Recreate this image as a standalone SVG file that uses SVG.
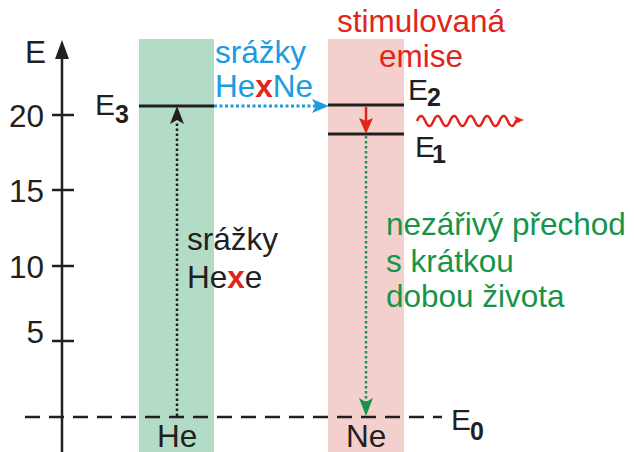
<svg xmlns="http://www.w3.org/2000/svg" width="634" height="452" viewBox="0 0 634 452">
<style>
text{font-family:"Liberation Sans",Arial,sans-serif;font-size:31.5px;fill:#231f20}
.e{font-size:30px}
.sub{font-size:25px;font-weight:bold}
.blue{fill:#1b9be0}
.red{fill:#e1251b}
.green{fill:#17944a}
.bx{font-weight:bold;fill:#e1251b}
.lvl{stroke:#231f20;stroke-width:3}
.ax{stroke:#231f20;stroke-width:2.5;fill:none}
</style>
<rect width="634" height="452" fill="#ffffff"/>
<g id="bands">
<rect id="he-band" x="139" y="39" width="75" height="413" fill="#b3dcc7"/>
<rect id="ne-band" x="328" y="39" width="76" height="413" fill="#f3d0ce"/>
</g>
<g id="axis">
<line class="ax" x1="62" y1="56" x2="62" y2="452"/>
<polygon points="62,40 55,59 69,59" fill="#231f20"/>
<text x="25" y="63">E</text>
<line class="ax" x1="52" y1="115" x2="74" y2="115" stroke-width="3"/>
<line class="ax" x1="52" y1="190" x2="74" y2="190" stroke-width="3"/>
<line class="ax" x1="52" y1="266" x2="74" y2="266" stroke-width="3"/>
<line class="ax" x1="52" y1="341" x2="74" y2="341" stroke-width="3"/>
<text x="44" y="127" text-anchor="end">20</text>
<text x="44" y="202" text-anchor="end">15</text>
<text x="44" y="278" text-anchor="end">10</text>
<text x="44" y="343" text-anchor="end">5</text>
</g>
<g id="E0">
<line x1="25" y1="417" x2="442" y2="417" stroke="#231f20" stroke-width="2.5" stroke-dasharray="15 9"/>
<text class="e" x="451" y="430">E</text><text class="sub" x="470" y="440">0</text>
</g>
<g id="E3">
<line class="lvl" x1="139" y1="106" x2="214" y2="106"/>
<text class="e" x="95" y="115">E</text><text class="sub" x="115" y="123">3</text>
</g>
<g id="E2">
<line class="lvl" x1="328" y1="105" x2="404" y2="105"/>
<text class="e" x="408" y="100">E</text><text class="sub" x="427" y="106">2</text>
</g>
<g id="E1">
<line class="lvl" x1="328" y1="134" x2="404" y2="134"/>
<text class="e" x="415" y="157">E</text><text class="sub" x="432" y="163">1</text>
</g>
<g id="labels">
<text x="157" y="447">He</text>
<text x="346" y="447">Ne</text>
<text class="blue" x="215" y="63">srážky</text>
<text class="blue" x="215" y="97">He<tspan class="bx">x</tspan>Ne</text>
<text class="red" x="337" y="32">stimulovaná</text>
<text class="red" x="379" y="67">emise</text>
<text x="187" y="250">srážky</text>
<text x="187" y="288">He<tspan class="bx">x</tspan>e</text>
<text class="green" x="386" y="235">nezářivý přechod</text>
<text class="green" x="386" y="272">s krátkou</text>
<text class="green" x="386" y="307">dobou života</text>
</g>
<g id="connectors">
<line x1="177" y1="416" x2="177" y2="121" stroke="#231f20" stroke-width="2.5" stroke-dasharray="2.5 2.5"/>
<polygon points="177,106 170,124 177,120 184,124" fill="#231f20"/>
<line x1="214" y1="106" x2="316" y2="106" stroke="#1b9be0" stroke-width="3" stroke-dasharray="3 2.5"/>
<polygon points="329,106 312,99 316,106 312,113" fill="#1b9be0"/>
<line x1="366" y1="107" x2="366" y2="124" stroke="#e1251b" stroke-width="2.5"/>
<polygon points="366,134 359,118 366,121 373,118" fill="#e1251b"/>
<line x1="366" y1="136" x2="366" y2="402" stroke="#17944a" stroke-width="2.5" stroke-dasharray="2.5 2.5"/>
<polygon points="366,416 359,398 366,402 373,398" fill="#17944a"/>
<path d="M417,121 q4.1,-10 8.25,0 t8.25,0 t8.25,0 t8.25,0 t8.25,0 t8.25,0 t8.25,0 t8.25,0 t8.25,0 t8.25,0 t8.25,0 t8.25,0 l4,0" fill="none" stroke="#e1251b" stroke-width="2.5"/>
<polygon points="524,120 514,116 516,120 514,124" fill="#e1251b"/>
</g>
</svg>
